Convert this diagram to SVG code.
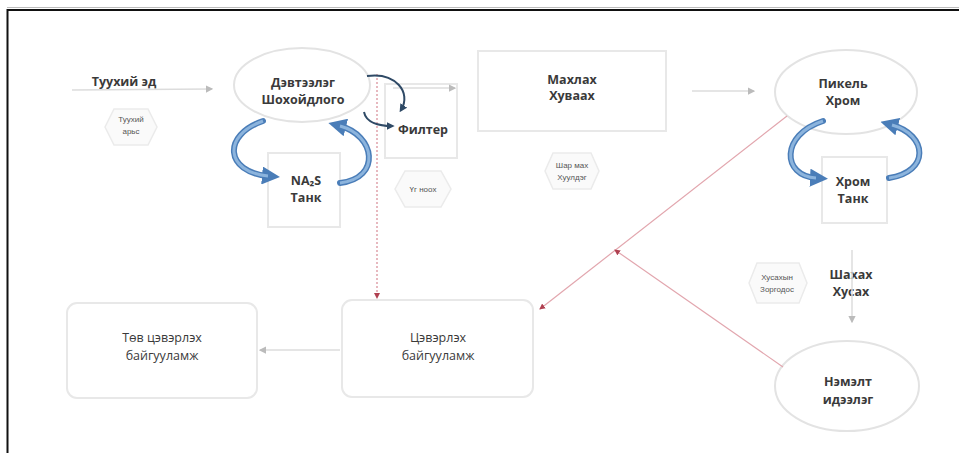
<svg xmlns="http://www.w3.org/2000/svg" width="959" height="453" viewBox="0 0 959 453">
<defs>
<style>
.t{font-family:"Open Sans","Liberation Sans",sans-serif;font-weight:bold;fill:#3a3a3a;text-anchor:middle;font-size:12.5px}
.n{font-weight:normal}
.s{font-family:"Liberation Sans",sans-serif;font-size:8px;fill:#555;text-anchor:middle}
.box{fill:#fff;stroke:#e8e8e8;stroke-width:2}
.ell{fill:#fff;stroke:#e3e3e3;stroke-width:2}
.hex{fill:#fafafa;stroke:#ebebeb;stroke-width:1.5}
.gl{stroke:#dcdcdc;stroke-width:1.5;fill:none}
.rd{stroke:#d88a95;stroke-width:1.2;fill:none;stroke-dasharray:2 2}
.rs{stroke:#e2a6ae;stroke-width:1.2;fill:none}
.bl{fill:none;stroke:#4a7db8;stroke-width:6;stroke-linecap:round}
.bi{fill:none;stroke:#8cb4dd;stroke-width:3}
.dk{fill:none;stroke:#2f4a66;stroke-width:2}
</style>
<marker id="ag" viewBox="0 0 6 6" refX="5" refY="3" markerWidth="5" markerHeight="5" orient="auto"><path d="M0,0L6,3L0,6z" fill="#bbb"/></marker>
<marker id="ar" viewBox="0 0 6 6" refX="5" refY="3" markerWidth="5" markerHeight="5" orient="auto"><path d="M0,0L6,3L0,6z" fill="#b04050"/></marker>
<marker id="ab" viewBox="0 0 6 6" refX="2" refY="3" markerWidth="3" markerHeight="3" orient="auto"><path d="M0,0L6,3L0,6z" fill="#4a7db8"/></marker>
<marker id="ad" viewBox="0 0 6 6" refX="4" refY="3" markerWidth="4" markerHeight="4" orient="auto"><path d="M0,0L6,3L0,6z" fill="#2f4a66"/></marker>
</defs>
<rect width="959" height="453" fill="#fff"/>
<path d="M7.5,453V10H959" fill="none" stroke="#111" stroke-width="2"/>
<line x1="7" y1="7.5" x2="959" y2="7.5" stroke="#bbb" stroke-width="1"/>

<g id="n-tuuhii-ed"><text class="t" x="124" y="86" font-size="13">Туухий эд</text></g>
<g id="n-tuuhii-arits"><polygon class="hex" points="105,127 114,109 148,109 157,127 148,145 114,145"/><text class="s" x="131" y="122">Туухий</text><text class="s" x="131" y="134">арьс</text></g>
<g id="n-devteelteg"><ellipse class="ell" cx="302" cy="85" rx="68" ry="37"/><text class="t" x="303" y="87">Дэвтээлэг</text><text class="t" x="303" y="104">Шохойдлого</text></g>
<g id="n-na2s"><rect class="box" x="268" y="153" width="72" height="74"/><text class="t" x="306" y="185">NA₂S</text><text class="t" x="306" y="202">Танк</text></g>
<g id="n-filter"><rect class="box" x="385" y="84" width="72" height="74"/><text class="t" x="423" y="134" font-size="13">Филтер</text></g>
<g id="n-ug-nookh"><polygon class="hex" points="395,189 405,171 441,171 451,189 441,207 405,207"/><text class="s" x="423" y="192">Үг ноох</text></g>
<g id="n-makhlakh"><rect class="box" x="478" y="51" width="188" height="80" stroke="#f0f0f0"/><text class="t" x="572" y="84">Махлах</text><text class="t" x="572" y="100">Хуваах</text></g>
<g id="n-shar-makh"><polygon class="hex" points="545,171 553,153 591,153 599,171 591,189 553,189"/><text class="s" x="572" y="168">Шар мах</text><text class="s" x="572" y="180">Хуулдэг</text></g>
<g id="n-pikel"><ellipse class="ell" cx="846" cy="92" rx="71" ry="42"/><text class="t" x="843" y="88">Пикель</text><text class="t" x="843" y="105">Хром</text></g>
<g id="n-khrom-tank"><rect class="box" x="822" y="157" width="65" height="66"/><text class="t" x="853" y="186">Хром</text><text class="t" x="853" y="203">Танк</text></g>
<g id="n-khusakh-zorgodos"><polygon class="hex" points="749,283 757,263 799,263 807,283 799,303 757,303"/><text class="s" x="777" y="280">Хусахын</text><text class="s" x="777" y="292">Зоргодос</text></g>
<g id="n-shakhakh"><text class="t" x="851" y="279" font-size="14">Шахах</text><text class="t" x="851" y="296" font-size="14">Хусах</text></g>
<g id="n-nemelt"><ellipse class="ell" cx="847" cy="386" rx="72" ry="45"/><text class="t" x="848" y="386" font-size="13">Нэмэлт</text><text class="t" x="848" y="404" font-size="13">идээлэг</text></g>
<g id="n-tseverlekh"><rect class="box" x="342" y="300" width="191" height="97" rx="10"/><text class="t n" x="438" y="342">Цэвэрлэх</text><text class="t n" x="438" y="360">байгууламж</text></g>
<g id="n-tov"><rect class="box" x="67" y="303" width="190" height="95" rx="10"/><text class="t n" x="162" y="342">Төв цэвэрлэх</text><text class="t n" x="162" y="360">байгууламж</text></g>

<g id="connectors">
<line class="gl" x1="72" y1="90" x2="212" y2="89" marker-end="url(#ag)"/>
<line class="gl" x1="393" y1="88" x2="455" y2="88" marker-end="url(#ag)"/>
<line class="gl" x1="692" y1="91" x2="754" y2="91" marker-end="url(#ag)"/>
<line class="gl" x1="852" y1="250" x2="852" y2="322" marker-end="url(#ag)"/>
<line class="gl" x1="340" y1="350" x2="260" y2="350" stroke="#c8d8e6" marker-end="url(#ag)"/>
<line class="rd" x1="377" y1="74" x2="377" y2="298" marker-end="url(#ar)"/>
<line class="rs" x1="787" y1="116" x2="540" y2="309" marker-end="url(#ar)"/>
<line class="rs" x1="783" y1="367" x2="615" y2="250" marker-end="url(#ar)"/>
<path class="bl" d="M263,121 C222,135 225,172 268,176" marker-end="url(#ab)"/>
<path class="bi" d="M263,121 C222,135 225,172 268,176"/>
<path class="bl" d="M340,183 C382,178 375,135 340,126" marker-end="url(#ab)"/>
<path class="bi" d="M340,183 C382,178 375,135 340,126"/>
<path class="bl" d="M823,121 C780,135 782,176 816,178" marker-end="url(#ab)"/>
<path class="bi" d="M823,121 C780,135 782,176 816,178"/>
<path class="bl" d="M889,178 C930,172 928,135 892,125" marker-end="url(#ab)"/>
<path class="bi" d="M889,178 C930,172 928,135 892,125"/>
<path class="dk" d="M367,76 C395,72 412,92 401,110" marker-end="url(#ad)"/>
<path class="dk" d="M364,112 C366,122 378,126 392,126" marker-end="url(#ad)"/>
</g>
</svg>
